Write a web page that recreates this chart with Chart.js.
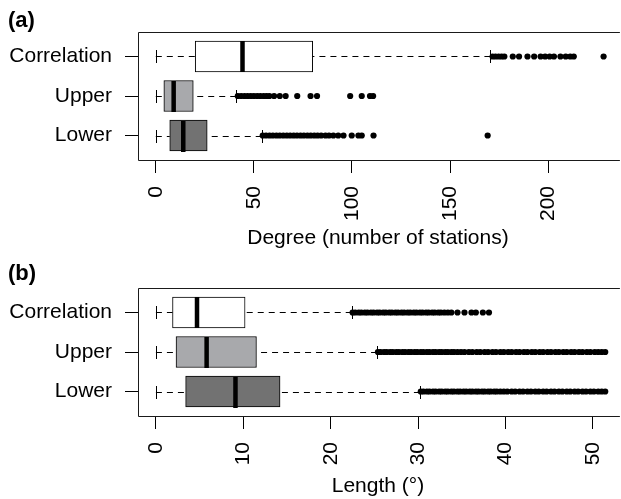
<!DOCTYPE html>
<html lang="en">
<head>
  <title>Degree and length boxplots</title>
  <script src="https://cdn.jsdelivr.net/npm/chart.js"></script>
  <style>
    body { margin: 0; background: #fff; }
    canvas { display: block; }
  </style>
</head>
<body>
  <canvas id="degreeChart" width="621" height="256"></canvas>
  <canvas id="lengthChart" width="621" height="243"></canvas>

  <script>
    const rows = ['Correlation', 'Upper', 'Lower'];
    const boxColors = ['#ffffff', '#a8a9ac', '#727272'];

    // (a) degree
    const degTicks = [0, 50, 100, 150, 200];
    const degLow = [0, 0, 0];
    const degQ1 = [20.1, 4.1, 7.1];
    const degMed = [44.2, 9.1, 14.0];
    const degQ3 = [80.0, 19.1, 26.2];
    const degHigh = [170.6, 41.0, 54.0];
    const degOutCorr = [171.7, 173.2, 174.8, 176.3, 177.7, 182.0, 185.2, 189.5, 192.9,
      196.2, 198.5, 200.8, 203.0, 206.3, 209.0, 211.3, 213.1, 228.3];
    const degOutUpper = [41.8, 43.5, 45.2, 46.8, 48.4, 50.0, 51.7, 53.3, 55.0, 56.5, 57.9,
      60.3, 63.2, 66.2, 72.1, 78.9, 82.2, 99.1, 105.0, 109.2, 110.8];
    const degOutLower = [54.5, 56.2, 58.0, 59.7, 61.5, 63.2, 65.0, 66.8, 68.5, 70.3, 72.0,
      73.8, 75.5, 77.3, 79.0, 80.8, 82.5, 84.3, 86.5, 88.3, 90.5, 93.0, 95.7, 99.9,
      103.3, 105.0, 111.0, 169.2];

    // (b) length
    const lenTicks = [0, 10, 20, 30, 40, 50];
    const lenLow = [0, 0, 0];
    const lenQ1 = [1.9, 2.3, 3.4];
    const lenMed = [4.7, 5.8, 9.1];
    const lenQ3 = [10.2, 11.5, 14.2];
    const lenHigh = [22.4, 25.3, 30.2];
    const lenOutCorr = [22.5, 22.8, 23.2, 23.5, 23.9, 24.2, 24.6, 24.9, 25.3, 25.6, 26.0,
      26.3, 26.7, 27.0, 27.4, 27.7, 28.1, 28.4, 28.8, 29.1, 29.5, 29.8, 30.2, 30.5, 30.9,
      31.2, 31.6, 31.9, 32.3, 32.6, 33.0, 33.4, 33.8, 34.5, 35.3, 36.1, 36.6, 37.4, 38.1];
    const lenOutUpper = [25.4, 25.7, 26.1, 26.4, 26.8, 27.1, 27.5, 27.8, 28.2, 28.5, 28.9,
      29.2, 29.6, 29.9, 30.3, 30.6, 31.0, 31.3, 31.7, 32.0, 32.4, 32.7, 33.1, 33.4, 33.8,
      34.1, 34.5, 34.9, 35.3, 35.8, 36.2, 36.7, 37.1, 37.6, 38.0, 38.5, 38.9, 39.4, 39.8,
      40.3, 40.7, 41.2, 41.6, 42.1, 42.5, 43.0, 43.4, 43.9, 44.3, 44.8, 45.2, 45.7, 46.1,
      46.6, 47.0, 47.5, 47.9, 48.4, 48.8, 49.3, 49.7, 50.2, 50.6, 51.0, 51.4];
    const lenOutLower = [30.3, 30.6, 31.0, 31.3, 31.7, 32.0, 32.4, 32.7, 33.1, 33.4, 33.8,
      34.1, 34.5, 34.8, 35.2, 35.5, 35.9, 36.2, 36.6, 36.9, 37.3, 37.6, 38.0, 38.3, 38.7,
      39.0, 39.4, 39.8, 40.2, 40.7, 41.1, 41.6, 42.0, 42.5, 42.9, 43.4, 43.8, 44.3, 44.7,
      45.2, 45.6, 46.1, 46.5, 47.0, 47.4, 47.9, 48.3, 48.8, 49.2, 49.7, 50.1, 50.6, 51.0, 51.4];

    Chart.defaults.font.family = "'Liberation Sans', Arial, sans-serif";
    Chart.defaults.color = '#000';

    // whiskers, caps, medians and the frame, placed through the chart's scales
    function boxPlugin(stats) {
      return {
        id: 'boxExtras',
        afterDatasetsDraw(chart) {
          const ctx = chart.ctx;
          const xs = chart.scales.x, ys = chart.scales.y;
          const a = chart.chartArea;
          ctx.save();
          ctx.strokeStyle = '#000';
          for (let i = 0; i < rows.length; i++) {
            const y = Math.round(ys.getPixelForValue(i)) + 0.5;
            const xl = xs.getPixelForValue(stats.low[i]);
            const x1 = xs.getPixelForValue(stats.q1[i]);
            const xm = xs.getPixelForValue(stats.med[i]);
            const x3 = xs.getPixelForValue(stats.q3[i]);
            const xh = xs.getPixelForValue(stats.high[i]);
            ctx.lineWidth = 1;
            ctx.setLineDash([6, 5]);
            ctx.beginPath();
            ctx.moveTo(xl, y); ctx.lineTo(x1, y);
            ctx.moveTo(xh, y); ctx.lineTo(x3, y);
            ctx.stroke();
            ctx.setLineDash([]);
            ctx.beginPath();
            ctx.moveTo(Math.round(xl) + 0.5, y - 6.5); ctx.lineTo(Math.round(xl) + 0.5, y + 6.5);
            ctx.moveTo(Math.round(xh) + 0.5, y - 6.5); ctx.lineTo(Math.round(xh) + 0.5, y + 6.5);
            ctx.stroke();
            ctx.lineWidth = 4.5;
            ctx.beginPath();
            ctx.moveTo(xm, y - 15.5); ctx.lineTo(xm, y + 15.5);
            ctx.stroke();
          }
          ctx.lineWidth = 1;
          ctx.strokeStyle = '#1a1a1a';
          ctx.beginPath();
          ctx.moveTo(a.right + 2, Math.round(a.top) + 0.5);
          ctx.lineTo(Math.round(a.left) + 0.5, Math.round(a.top) + 0.5);
          ctx.lineTo(Math.round(a.left) + 0.5, Math.round(a.bottom) + 0.5);
          ctx.lineTo(a.right + 2, Math.round(a.bottom) + 0.5);
          ctx.stroke();
          ctx.restore();
        }
      };
    }

    function createPanel(canvasId, p) {
      const ctx = document.getElementById(canvasId).getContext('2d');
      const outliers = [p.outCorr, p.outUpper, p.outLower];
      const outData = [];
      outliers.forEach((list, i) => list.forEach(v => outData.push({ x: v, y: i })));

      return new Chart(ctx, {
        type: 'bar',
        data: {
          datasets: [{
            type: 'bar',
            data: rows.map((r, i) => ({ y: i, x: [p.q1[i], p.q3[i]] })),
            backgroundColor: boxColors,
            borderColor: '#000',
            borderWidth: 1,
            borderSkipped: false,
            barThickness: 31
          }, {
            type: 'scatter',
            data: outData,
            pointRadius: 3.1,
            pointHoverRadius: 3.1,
            pointBackgroundColor: '#000',
            pointBorderWidth: 0
          }]
        },
        options: {
          responsive: false,
          animation: false,
          events: [],
          indexAxis: 'y',
          layout: { padding: { left: 8, right: 0, top: 0, bottom: 0 } },
          plugins: {
            legend: { display: false },
            tooltip: { enabled: false },
            title: {
              display: true,
              text: p.label,
              align: 'start',
              color: '#000',
              font: { size: 22, weight: 'bold', lineHeight: 1 },
              padding: p.titlePad
            }
          },
          scales: {
            x: {
              type: 'linear',
              min: p.min,
              max: p.max,
              offset: false,
              afterBuildTicks: axis => { axis.ticks = p.ticks.map(v => ({ value: v })); },
              afterFit: scale => {
                scale.height = p.axisHeight;
                scale.paddingLeft = 0;
                scale.paddingRight = 0;
              },
              ticks: { autoSkip: false, minRotation: 90, maxRotation: 90, padding: 13, font: { size: 21 } },
              grid: { offset: false, drawOnChartArea: false, tickLength: 13, tickColor: '#000' },
              border: { display: false },
              title: { display: true, text: p.title, font: { size: 21 }, padding: { top: 0, bottom: p.titleBottom } }
            },
            y: {
              type: 'linear',
              min: -0.62,
              max: 2.62,
              reverse: true,
              offset: false,
              afterBuildTicks: axis => { axis.ticks = rows.map((r, i) => ({ value: i })); },
              afterFit: scale => {
                scale.width = 130;
                scale.paddingTop = 0;
                scale.paddingBottom = 0;
              },
              ticks: { autoSkip: false, padding: 13, font: { size: 21 }, callback: v => rows[v] },
              grid: { offset: false, drawOnChartArea: false, tickLength: 13, tickColor: '#000' },
              border: { display: false }
            }
          }
        },
        plugins: [boxPlugin(p)]
      });
    }

    createPanel('degreeChart', {
      label: '(a)', title: 'Degree (number of stations)',
      titlePad: { top: 10, bottom: 0 }, titleBottom: 5, axisHeight: 96,
      min: -9.08, max: 235.6, ticks: degTicks,
      low: degLow, q1: degQ1, med: degMed, q3: degQ3, high: degHigh,
      outCorr: degOutCorr, outUpper: degOutUpper, outLower: degOutLower
    });

    createPanel('lengthChart', {
      label: '(b)', title: 'Length (°)',
      titlePad: { top: 7, bottom: 3 }, titleBottom: 0, axisHeight: 83,
      min: -2.05, max: 52.85, ticks: lenTicks,
      low: lenLow, q1: lenQ1, med: lenMed, q3: lenQ3, high: lenHigh,
      outCorr: lenOutCorr, outUpper: lenOutUpper, outLower: lenOutLower
    });
  </script>
</body>
</html>
